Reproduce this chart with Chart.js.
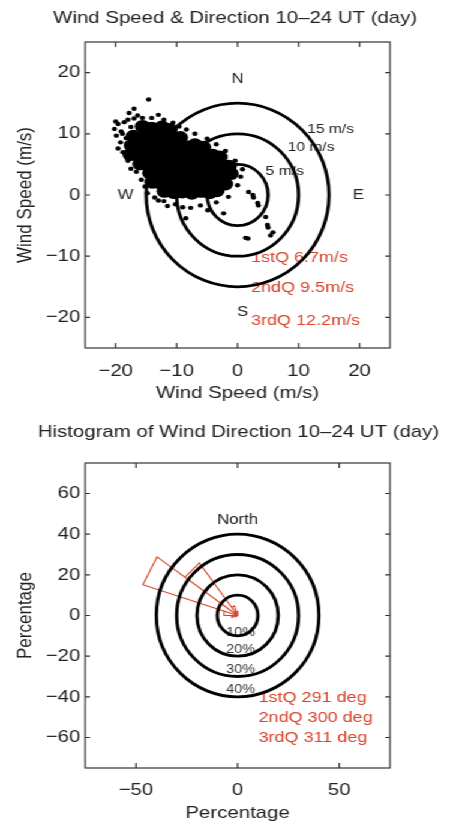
<!DOCTYPE html>
<html>
<head>
<meta charset="utf-8">
<script src="https://cdn.jsdelivr.net/npm/chart.js@4.4.1/dist/chart.umd.min.js"></script>
<style>
  html, body { margin: 0; padding: 0; background: #fff; overflow: hidden; }
  /* the figure's lettering is wide, so the whole page is stretched sideways */
  #wrap { width: 378px; transform: scaleX(1.2); transform-origin: 0 0; }
  canvas { display: block; }
</style>
</head>
<body>
<div id="wrap">
  <canvas id="speedChart" width="378" height="410"></canvas>
  <canvas id="dirChart" width="378" height="413"></canvas>
</div>
<script>
// wind vectors, m/s (u = east, v = north)
// dense middle of the cloud
const coreU = [-15.6, -14.1, -12.4, -11.1,
  -17.1, -15.5, -14.0, -12.6, -11.0, -9.4,
  -17.4, -16.0, -14.6, -13.0, -11.5, -10.1, -8.5, -7.0, -5.6,
  -17.6, -16.1, -14.5, -13.1, -11.4, -10.0, -8.6, -7.1, -5.5, -4.1, -2.9,
  -16.0, -14.6, -13.0, -11.6, -10.1, -8.4, -7.0, -5.6, -4.0, -2.6, -1.4,
  -14.4, -13.1, -11.5, -9.9, -8.5, -7.0, -5.4, -4.1, -2.5, -1.1,
  -14.0, -12.6, -11.0, -9.5, -8.0, -6.6, -5.0, -3.4, -2.0,
  -12.0, -10.4, -9.1, -7.5, -6.0, -4.6, -3.4];
const coreV = [11.2, 10.9, 11.1, 10.7,
  9.6, 9.4, 9.7, 9.5, 9.3, 9.4,
  8.1, 7.9, 8.2, 8.0, 7.8, 8.1, 7.9, 8.2, 7.8,
  6.6, 6.4, 6.7, 6.5, 6.3, 6.6, 6.4, 6.6, 6.3, 6.5, 6.2,
  5.1, 4.9, 5.2, 4.8, 5.0, 5.1, 4.9, 5.2, 4.8, 5.0, 4.7,
  3.6, 3.3, 3.5, 3.4, 3.7, 3.3, 3.5, 3.6, 3.3, 3.5,
  2.1, 1.9, 2.2, 1.8, 2.0, 2.1, 1.9, 2.2, 1.8,
  0.6, 0.4, 0.5, 0.3, 0.6, 0.4, 0.7];
// loose points round the edge of the cloud
const looseU = [-19.6, -19.1, -19.9, -18.6, -18.0, -19.2, -19.6, -18.8, -18.9, -17.5,
  -17.0, -16.4, -15.6, -17.0, -14.6, -13.0, -14.1, -12.1, -10.6, -9.6,
  -18.0, -17.5, -16.6, -15.8, -15.2, -14.8, -13.6, -12.1, -10.2, -9.0,
  -7.7, -8.5, -6.1, -4.9, -2.3, -3.5, -1.5, 0.0, 0.5, 0.8,
  -0.4, -2.0, -3.5, -5.0, -7.0, -8.4, 1.8, 2.5, 2.6, 3.3,
  3.4, 4.6, 4.9, 5.0, 5.4, 5.8, 1.3, 1.7, -11.5, -13.0,
  -16.1, -20.0, -20.2, -18.3, -17.8];
const looseV = [11.6, 10.4, 9.7, 11.9, 12.3, 8.6, 7.6, 7.0, 10.0, 11.1,
  12.5, 13.0, 12.6, 14.1, 15.6, 13.1, 12.6, 12.3, 11.8, 11.2,
  5.6, 4.3, 3.8, 2.5, 1.4, 0.3, -0.4, -1.0, -1.5, -2.0,
  -2.1, -3.8, -1.7, -2.5, -3.0, -1.2, -0.3, 1.6, 3.0, 4.2,
  5.6, 7.2, 8.3, 9.2, 10.0, 10.7, 0.5, 0.0, -0.4, -1.3,
  -1.7, -3.6, -4.9, -5.3, -6.6, -6.1, -7.0, -7.1, -1.8, -0.9,
  9.1, 12.0, 10.8, 9.3, 13.4];

const speedRings = [5, 10, 15];
const speedQuartiles = ['1stQ 6.7m/s', '2ndQ 9.5m/s', '3rdQ 12.2m/s'];
const speedTicks = [-20, -10, 0, 10, 20];

// wind direction histogram: 18 deg bins (compass, start angle) and percent
const dirBinStart = [0, 18, 36, 54, 72, 90, 108, 126, 144, 162,
  180, 198, 216, 234, 252, 270, 288, 306, 324, 342];
const dirPercent = [1, 0, 0, 0, 0, 0, 0, 0, 0, 0,
  0, 0, 0, 1, 3, 7, 49, 32, 5, 2];
const pctRings = [10, 20, 30, 40];
const dirQuartiles = ['1stQ 291 deg', '2ndQ 300 deg', '3rdQ 311 deg'];
const pctTicksX = [-50, 0, 50];
const pctTicksY = [-60, -40, -20, 0, 20, 40, 60];

const RED = '#d9452b';
const INK = '#222';
Chart.defaults.font.family = '"Liberation Sans", Arial, Helvetica, sans-serif';
Chart.defaults.color = INK;

// frame with inward tick marks on all four sides
const boxPlugin = {
  id: 'box',
  afterDraw(chart) {
    const {ctx, chartArea: a, scales: {x, y}} = chart;
    ctx.save();
    ctx.strokeStyle = '#333';
    ctx.lineWidth = 1.2;
    ctx.strokeRect(a.left, a.top, a.right - a.left, a.bottom - a.top);
    ctx.beginPath();
    x.ticks.forEach(function (t) {
      const px = x.getPixelForValue(t.value);
      ctx.moveTo(px, a.bottom); ctx.lineTo(px, a.bottom - 5);
      ctx.moveTo(px, a.top); ctx.lineTo(px, a.top + 5);
    });
    y.ticks.forEach(function (t) {
      const py = y.getPixelForValue(t.value);
      ctx.moveTo(a.left, py); ctx.lineTo(a.left + 4, py);
      ctx.moveTo(a.right, py); ctx.lineTo(a.right - 4, py);
    });
    ctx.stroke();
    ctx.restore();
  }
};

// concentric rings, radius in data units
const ringsPlugin = {
  id: 'rings',
  afterDatasetsDraw(chart, args, opts) {
    const {ctx, scales: {x, y}} = chart;
    const cx = x.getPixelForValue(0), cy = y.getPixelForValue(0);
    ctx.save();
    ctx.strokeStyle = '#000';
    ctx.lineWidth = opts.width || 2.8;
    (opts.radii || []).forEach(function (r) {
      const rx = Math.abs(x.getPixelForValue(r) - cx);
      const ry = Math.abs(y.getPixelForValue(r) - cy);
      ctx.beginPath();
      ctx.ellipse(cx, cy, rx, ry, 0, 0, Math.PI * 2);
      ctx.stroke();
    });
    ctx.restore();
  }
};

// text placed at data coordinates
const notesPlugin = {
  id: 'notes',
  beforeDatasetsDraw(chart, args, opts) {
    const {ctx, scales: {x, y}} = chart;
    ctx.save();
    ctx.textBaseline = 'middle';
    (opts.items || []).forEach(function (n) {
      ctx.font = (n.size || 14) + 'px ' + Chart.defaults.font.family;
      ctx.fillStyle = n.color || INK;
      ctx.textAlign = n.align || 'center';
      ctx.fillText(n.text, x.getPixelForValue(n.x), y.getPixelForValue(n.y));
    });
    ctx.restore();
  }
};

function minus(v) { return String(v).replace('-', '\u2212'); }

function axis(range, ticks, label, fit, titlePad, tickPad) {
  return {
    type: 'linear',
    min: -range, max: range,
    afterBuildTicks: function (s) { s.ticks = ticks.map(function (v) { return {value: v}; }); },
    afterFit: fit,
    grid: {display: false, drawTicks: false},
    border: {display: false},
    ticks: {color: INK, padding: tickPad, font: {size: 17}, callback: minus, autoSkip: false, maxRotation: 0},
    title: {display: true, text: label, color: INK, font: {size: 17}, padding: titlePad}
  };
}

// empty box on the right, keeps the plot square and the title centred like the figure
const spacer = {
  type: 'linear', position: 'right', display: true,
  grid: {display: false, drawTicks: false}, border: {display: false}, ticks: {display: false},
  afterFit: function (s) { s.width = 53; }
};

// ---- wind speed & direction scatter ----
const speedNotes = [
  {text: 'N', x: 0, y: 19},
  {text: 'E', x: 19.8, y: 0},
  {text: 'S', x: 0.8, y: -19.2},
  {text: 'W', x: -18.4, y: 0},
  {text: speedRings[2] + ' m/s', x: 11.4, y: 10.7, align: 'left', size: 13},
  {text: speedRings[1] + ' m/s', x: 8.2, y: 7.7, align: 'left', size: 13},
  {text: speedRings[0] + ' m/s', x: 4.6, y: 3.8, align: 'left', size: 13},
  {text: speedQuartiles[0], x: 2.2, y: -10.3, align: 'left', size: 15, color: RED},
  {text: speedQuartiles[1], x: 2.2, y: -15.2, align: 'left', size: 15, color: RED},
  {text: speedQuartiles[2], x: 2.2, y: -20.5, align: 'left', size: 15, color: RED}
];

new Chart(document.getElementById('speedChart'), {
  type: 'scatter',
  data: {
    datasets: [{
      label: 'core',
      data: coreU.map(function (u, i) { return {x: u, y: coreV[i]}; }),
      pointRadius: 6.5, pointBorderWidth: 0, backgroundColor: '#000'
    }, {
      label: 'loose',
      data: looseU.map(function (u, i) { return {x: u, y: looseV[i]}; }),
      pointRadius: 2.2, pointBorderWidth: 0, backgroundColor: '#000'
    }]
  },
  options: {
    responsive: false,
    animation: false,
    layout: {padding: {left: 14, right: 0, top: 0, bottom: 0}},
    scales: {
      x: axis(25, speedTicks, 'Wind Speed (m/s)', function (s) { s.height = 62; }, {top: 0, bottom: 6}, 13),
      y: axis(25, speedTicks, 'Wind Speed (m/s)', function (s) { s.width = 57; }, {top: -3, bottom: 0}, 4),
      pad: spacer
    },
    plugins: {
      legend: {display: false},
      tooltip: {enabled: false},
      title: {display: true, text: 'Wind Speed & Direction 10\u201324 UT (day)',
        color: INK, font: {size: 17, weight: 'normal'}, padding: {top: 8, bottom: 13.6}},
      rings: {radii: speedRings, width: 2.8},
      notes: {items: speedNotes}
    }
  },
  plugins: [notesPlugin, ringsPlugin, boxPlugin]
});

// ---- wind direction rose ----
const rosePoints = [];
dirBinStart.forEach(function (start, i) {
  const r = dirPercent[i];
  if (!r) return;
  const a1 = start * Math.PI / 180, a2 = (start + 18) * Math.PI / 180;
  rosePoints.push({x: 0, y: 0},
    {x: r * Math.sin(a1), y: r * Math.cos(a1)},
    {x: r * Math.sin(a2), y: r * Math.cos(a2)},
    {x: 0, y: 0});
});

const dirNotes = [
  {text: 'North', x: 0, y: 47},
  {text: pctRings[0] + '%', x: 1.5, y: -8.3, size: 12, color: '#333'},
  {text: pctRings[1] + '%', x: 1.5, y: -17, size: 12, color: '#333'},
  {text: pctRings[2] + '%', x: 1.5, y: -26.8, size: 12, color: '#333'},
  {text: pctRings[3] + '%', x: 1.5, y: -36.6, size: 12, color: '#333'},
  {text: dirQuartiles[0], x: 10.3, y: -40.5, align: 'left', size: 15, color: RED},
  {text: dirQuartiles[1], x: 10.3, y: -50.2, align: 'left', size: 15, color: RED},
  {text: dirQuartiles[2], x: 10.3, y: -60, align: 'left', size: 15, color: RED}
];

new Chart(document.getElementById('dirChart'), {
  type: 'scatter',
  data: {
    datasets: [{
      label: 'direction',
      data: rosePoints,
      showLine: true, fill: false, tension: 0,
      borderColor: RED, borderWidth: 1.1, pointRadius: 0
    }]
  },
  options: {
    responsive: false,
    animation: false,
    layout: {padding: {left: 19.5, right: 0, top: 0, bottom: 0}},
    scales: {
      x: axis(75, pctTicksX, 'Percentage', function (s) { s.height = 55; }, {top: 0, bottom: -1}, 12),
      y: axis(75, pctTicksY, 'Percentage', function (s) { s.width = 51.5; }, {top: -8.5, bottom: 0}, 4),
      pad: spacer
    },
    plugins: {
      legend: {display: false},
      tooltip: {enabled: false},
      title: {display: true, text: 'Histogram of Wind Direction 10\u201324 UT (day)',
        color: INK, font: {size: 17, weight: 'normal'}, padding: {top: 12, bottom: 20.6}},
      rings: {radii: pctRings, width: 2.8},
      notes: {items: dirNotes}
    }
  },
  plugins: [notesPlugin, ringsPlugin, boxPlugin]
});
</script>
</body>
</html>
